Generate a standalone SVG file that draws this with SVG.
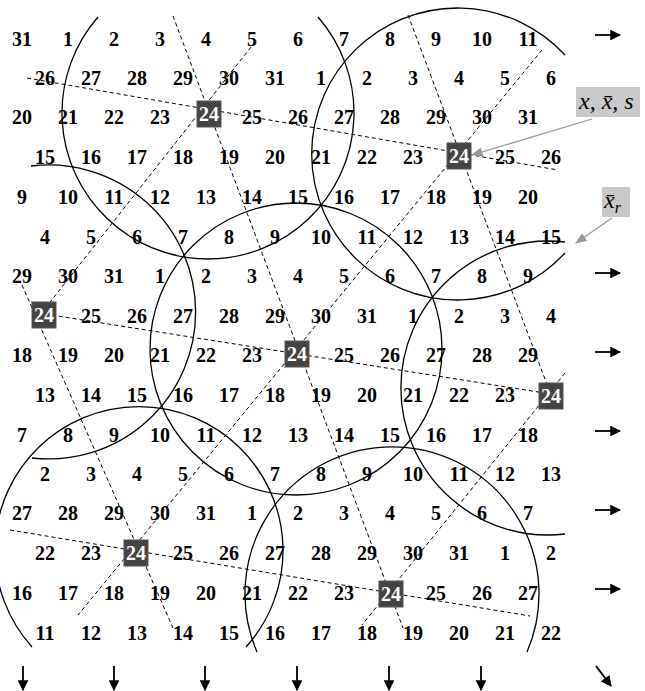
<svg xmlns="http://www.w3.org/2000/svg" width="645" height="691" viewBox="0 0 645 691">
<defs>
<style>
.n{font-family:"Liberation Serif","Times New Roman",serif;font-weight:bold;font-size:20px;text-anchor:middle;fill:#000}
.bx rect{fill:#444;stroke:#555;stroke-width:1}
.bx text{font-family:"Liberation Serif",serif;font-weight:bold;font-size:20px;text-anchor:middle;fill:#fff}
.dash{stroke:#000;stroke-width:1;stroke-dasharray:4 3;fill:none}
.circ{stroke:#000;stroke-width:1.3;fill:none}
.arr{stroke:#000;stroke-width:1.8;fill:none}
.call{fill:#c9c9c9}
.callarr{stroke:#999;stroke-width:1.3;fill:none}
.m{font-family:"Liberation Serif","DejaVu Serif",serif;font-style:italic;font-size:24px;fill:#000}
</style>
<marker id="ah" viewBox="0 0 10 10" refX="9" refY="5" markerWidth="6" markerHeight="6" orient="auto" markerUnits="strokeWidth">
<path d="M0,0 L10,5 L0,10 Z" fill="#000"/>
</marker>
<marker id="gh" viewBox="0 0 10 10" refX="9" refY="5" markerWidth="9" markerHeight="9" orient="auto" markerUnits="strokeWidth">
<path d="M0,1 L10,5 L0,9 Z" fill="#999"/>
</marker>
</defs>
<rect width="645" height="691" fill="#fff"/>

<g id="connectors">
<line class="dash" x1="27" y1="78" x2="558" y2="170"/>
<line class="dash" x1="45" y1="314" x2="551" y2="394"/>
<line class="dash" x1="10" y1="530" x2="530" y2="616"/>
<line class="dash" x1="173" y1="16" x2="403" y2="628"/>
<line class="dash" x1="408" y1="15" x2="551" y2="395"/>
<line class="dash" x1="22" y1="285" x2="173" y2="628"/>
<line class="dash" x1="251" y1="47" x2="47" y2="306"/>
<line class="dash" x1="542" y1="50" x2="78" y2="615"/>
<line class="dash" x1="565" y1="373" x2="362" y2="625"/>
</g>

<g id="circles">
<path class="circ" d="M98 17 A146 146 0 1 0 318 17"/>
<path class="circ" d="M565 55 A146 146 0 1 0 565 253"/>
<path class="circ" d="M31 166 A147 147 0 1 1 32 458"/>
<circle class="circ" cx="296" cy="349" r="146"/>
<path class="circ" d="M565 242 A147 147 0 1 0 565 534"/>
<path class="circ" d="M32 647 A144 144 0 1 1 246 647"/>
<path class="circ" d="M257 652 A147 147 0 1 1 527 652"/>
</g>

<g id="grid">
<text class="n" y="46"><tspan x="22">31</tspan><tspan x="68">1</tspan><tspan x="114">2</tspan><tspan x="160">3</tspan><tspan x="206">4</tspan><tspan x="252">5</tspan><tspan x="298">6</tspan><tspan x="344">7</tspan><tspan x="390">8</tspan><tspan x="436">9</tspan><tspan x="482">10</tspan><tspan x="528">11</tspan></text>
<text class="n" y="85"><tspan x="45">26</tspan><tspan x="91">27</tspan><tspan x="137">28</tspan><tspan x="183">29</tspan><tspan x="229">30</tspan><tspan x="275">31</tspan><tspan x="321">1</tspan><tspan x="367">2</tspan><tspan x="413">3</tspan><tspan x="459">4</tspan><tspan x="505">5</tspan><tspan x="551">6</tspan></text>
<text class="n" y="124"><tspan x="22">20</tspan><tspan x="68">21</tspan><tspan x="114">22</tspan><tspan x="160">23</tspan><tspan x="252">25</tspan><tspan x="298">26</tspan><tspan x="344">27</tspan><tspan x="390">28</tspan><tspan x="436">29</tspan><tspan x="482">30</tspan><tspan x="528">31</tspan></text>
<text class="n" y="164"><tspan x="45">15</tspan><tspan x="91">16</tspan><tspan x="137">17</tspan><tspan x="183">18</tspan><tspan x="229">19</tspan><tspan x="275">20</tspan><tspan x="321">21</tspan><tspan x="367">22</tspan><tspan x="413">23</tspan><tspan x="505">25</tspan><tspan x="551">26</tspan></text>
<text class="n" y="204"><tspan x="22">9</tspan><tspan x="68">10</tspan><tspan x="114">11</tspan><tspan x="160">12</tspan><tspan x="206">13</tspan><tspan x="252">14</tspan><tspan x="298">15</tspan><tspan x="344">16</tspan><tspan x="390">17</tspan><tspan x="436">18</tspan><tspan x="482">19</tspan><tspan x="528">20</tspan></text>
<text class="n" y="244"><tspan x="45">4</tspan><tspan x="91">5</tspan><tspan x="137">6</tspan><tspan x="183">7</tspan><tspan x="229">8</tspan><tspan x="275">9</tspan><tspan x="321">10</tspan><tspan x="367">11</tspan><tspan x="413">12</tspan><tspan x="459">13</tspan><tspan x="505">14</tspan><tspan x="551">15</tspan></text>
<text class="n" y="283"><tspan x="22">29</tspan><tspan x="68">30</tspan><tspan x="114">31</tspan><tspan x="160">1</tspan><tspan x="206">2</tspan><tspan x="252">3</tspan><tspan x="298">4</tspan><tspan x="344">5</tspan><tspan x="390">6</tspan><tspan x="436">7</tspan><tspan x="482">8</tspan><tspan x="528">9</tspan></text>
<text class="n" y="323"><tspan x="91">25</tspan><tspan x="137">26</tspan><tspan x="183">27</tspan><tspan x="229">28</tspan><tspan x="275">29</tspan><tspan x="321">30</tspan><tspan x="367">31</tspan><tspan x="413">1</tspan><tspan x="459">2</tspan><tspan x="505">3</tspan><tspan x="551">4</tspan></text>
<text class="n" y="362"><tspan x="22">18</tspan><tspan x="68">19</tspan><tspan x="114">20</tspan><tspan x="160">21</tspan><tspan x="206">22</tspan><tspan x="252">23</tspan><tspan x="344">25</tspan><tspan x="390">26</tspan><tspan x="436">27</tspan><tspan x="482">28</tspan><tspan x="528">29</tspan></text>
<text class="n" y="402"><tspan x="45">13</tspan><tspan x="91">14</tspan><tspan x="137">15</tspan><tspan x="183">16</tspan><tspan x="229">17</tspan><tspan x="275">18</tspan><tspan x="321">19</tspan><tspan x="367">20</tspan><tspan x="413">21</tspan><tspan x="459">22</tspan><tspan x="505">23</tspan></text>
<text class="n" y="442"><tspan x="22">7</tspan><tspan x="68">8</tspan><tspan x="114">9</tspan><tspan x="160">10</tspan><tspan x="206">11</tspan><tspan x="252">12</tspan><tspan x="298">13</tspan><tspan x="344">14</tspan><tspan x="390">15</tspan><tspan x="436">16</tspan><tspan x="482">17</tspan><tspan x="528">18</tspan></text>
<text class="n" y="481"><tspan x="45">2</tspan><tspan x="91">3</tspan><tspan x="137">4</tspan><tspan x="183">5</tspan><tspan x="229">6</tspan><tspan x="275">7</tspan><tspan x="321">8</tspan><tspan x="367">9</tspan><tspan x="413">10</tspan><tspan x="459">11</tspan><tspan x="505">12</tspan><tspan x="551">13</tspan></text>
<text class="n" y="520"><tspan x="22">27</tspan><tspan x="68">28</tspan><tspan x="114">29</tspan><tspan x="160">30</tspan><tspan x="206">31</tspan><tspan x="252">1</tspan><tspan x="298">2</tspan><tspan x="344">3</tspan><tspan x="390">4</tspan><tspan x="436">5</tspan><tspan x="482">6</tspan><tspan x="528">7</tspan></text>
<text class="n" y="560"><tspan x="45">22</tspan><tspan x="91">23</tspan><tspan x="183">25</tspan><tspan x="229">26</tspan><tspan x="275">27</tspan><tspan x="321">28</tspan><tspan x="367">29</tspan><tspan x="413">30</tspan><tspan x="459">31</tspan><tspan x="505">1</tspan><tspan x="551">2</tspan></text>
<text class="n" y="600"><tspan x="22">16</tspan><tspan x="68">17</tspan><tspan x="114">18</tspan><tspan x="160">19</tspan><tspan x="206">20</tspan><tspan x="252">21</tspan><tspan x="298">22</tspan><tspan x="344">23</tspan><tspan x="436">25</tspan><tspan x="482">26</tspan><tspan x="528">27</tspan></text>
<text class="n" y="640"><tspan x="45">11</tspan><tspan x="91">12</tspan><tspan x="137">13</tspan><tspan x="183">14</tspan><tspan x="229">15</tspan><tspan x="275">16</tspan><tspan x="321">17</tspan><tspan x="367">18</tspan><tspan x="413">19</tspan><tspan x="459">20</tspan><tspan x="505">21</tspan><tspan x="551">22</tspan></text>
</g>

<g id="box1" class="bx"><rect x="197" y="101" width="24" height="26"/><text x="209" y="121">24</text></g>
<g id="box2" class="bx"><rect x="447" y="143" width="24" height="26"/><text x="459" y="163">24</text></g>
<g id="box3" class="bx"><rect x="32" y="302" width="24" height="26"/><text x="44" y="322">24</text></g>
<g id="box4" class="bx"><rect x="285" y="341" width="24" height="26"/><text x="297" y="361">24</text></g>
<g id="box5" class="bx"><rect x="539" y="383" width="24" height="26"/><text x="551" y="403">24</text></g>
<g id="box6" class="bx"><rect x="124" y="540" width="24" height="26"/><text x="136" y="560">24</text></g>
<g id="box7" class="bx"><rect x="379" y="581" width="24" height="26"/><text x="391" y="601">24</text></g>

<g id="arrows">
<line class="arr" x1="595" y1="35" x2="620" y2="35" marker-end="url(#ah)"/>
<line class="arr" x1="595" y1="273" x2="620" y2="273" marker-end="url(#ah)"/>
<line class="arr" x1="595" y1="352" x2="620" y2="352" marker-end="url(#ah)"/>
<line class="arr" x1="595" y1="431" x2="620" y2="431" marker-end="url(#ah)"/>
<line class="arr" x1="595" y1="510" x2="620" y2="510" marker-end="url(#ah)"/>
<line class="arr" x1="595" y1="589" x2="620" y2="589" marker-end="url(#ah)"/>
<line class="arr" x1="23" y1="666" x2="23" y2="690" marker-end="url(#ah)"/>
<line class="arr" x1="114" y1="666" x2="114" y2="690" marker-end="url(#ah)"/>
<line class="arr" x1="205" y1="666" x2="205" y2="690" marker-end="url(#ah)"/>
<line class="arr" x1="297" y1="666" x2="297" y2="690" marker-end="url(#ah)"/>
<line class="arr" x1="389" y1="666" x2="389" y2="690" marker-end="url(#ah)"/>
<line class="arr" x1="481" y1="666" x2="481" y2="690" marker-end="url(#ah)"/>
<line class="arr" x1="596" y1="666" x2="611" y2="686" marker-end="url(#ah)"/>
</g>

<g id="callout1">
<rect class="call" x="576" y="87" width="64" height="30"/>
<text class="m" x="579" y="109">x, x̄, s</text>
<line class="callarr" x1="592" y1="119" x2="472" y2="155" marker-end="url(#gh)"/>
</g>
<g id="callout2">
<rect class="call" x="602" y="187" width="28" height="30"/>
<text class="m" x="604" y="208">x̄<tspan font-size="16" dy="5">r</tspan></text>
<line class="callarr" x1="612" y1="218" x2="576" y2="243" marker-end="url(#gh)"/>
</g>
</svg>
